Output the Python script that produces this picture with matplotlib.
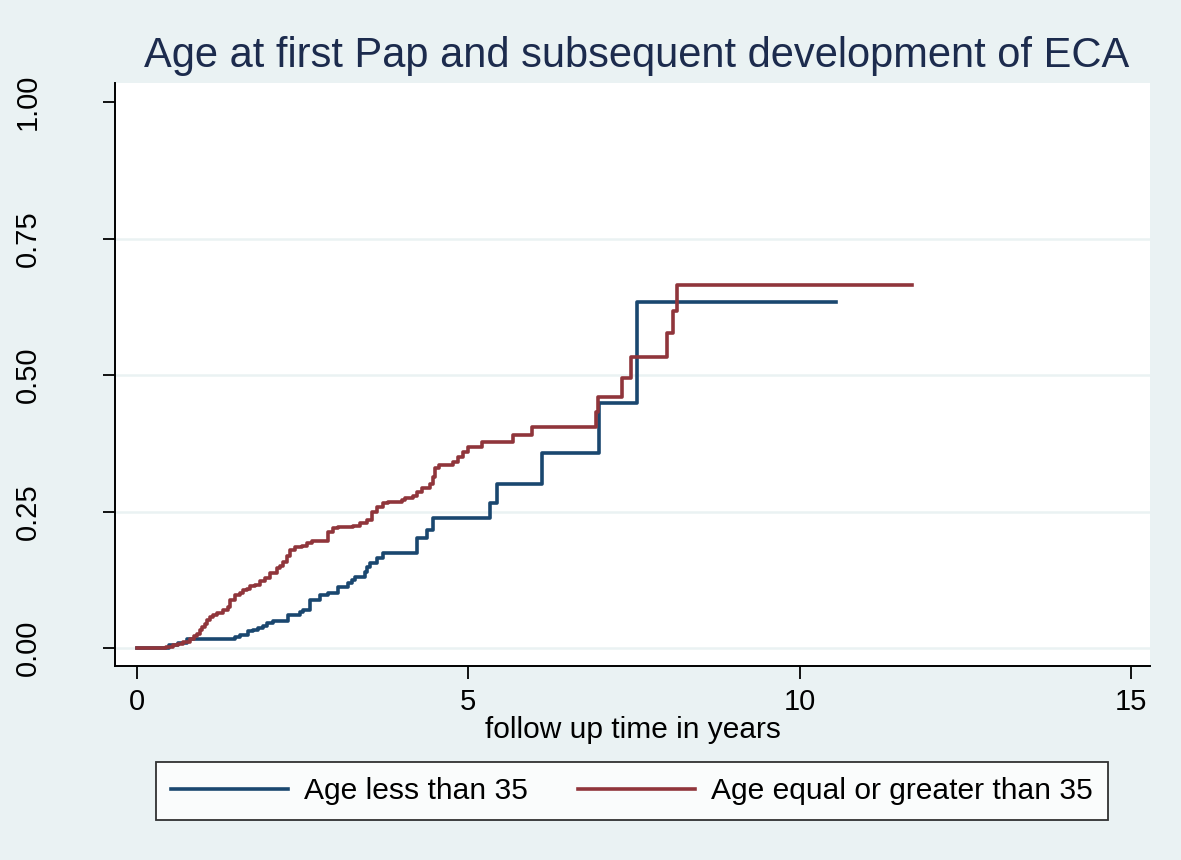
import matplotlib
matplotlib.use("Agg")
import matplotlib.pyplot as plt
import numpy as np

plt.rcParams['font.family'] = ['Liberation Sans', 'DejaVu Sans']

title = "Age at first Pap and subsequent development of ECA"
xlabel = "follow up time in years"
series_names = ["Age less than 35", "Age equal or greater than 35"]
xticks = [0, 5, 10, 15]
yticks = [0.00, 0.25, 0.50, 0.75, 1.00]
ytick_labels = ["0.00", "0.25", "0.50", "0.75", "1.00"]

# Kaplan-Meier failure estimates (time in years, cumulative failure after step)
young_t = [0.0, 0.48, 0.62, 0.75, 1.48, 1.55, 1.67, 1.75, 1.83, 1.90, 1.96, 2.05,
           2.28, 2.46, 2.50, 2.61, 2.76, 2.88, 3.03, 3.18, 3.24, 3.29, 3.44, 3.47,
           3.52, 3.62, 3.71, 4.23, 4.38, 4.47, 5.33, 5.43, 6.11, 6.97, 7.54, 10.55]
young_f = [0.0, 0.005, 0.010, 0.016, 0.020, 0.024, 0.031, 0.033, 0.037, 0.040, 0.046, 0.050,
           0.060, 0.066, 0.070, 0.088, 0.097, 0.101, 0.112, 0.119, 0.125, 0.130, 0.139, 0.148,
           0.156, 0.165, 0.174, 0.201, 0.216, 0.238, 0.265, 0.300, 0.357, 0.449, 0.634, 0.634]

old_t = [0.0, 0.44, 0.54, 0.62, 0.69, 0.80, 0.86, 0.91, 0.95, 0.98, 1.03, 1.06,
         1.10, 1.15, 1.21, 1.30, 1.37, 1.40, 1.48, 1.55, 1.60, 1.66, 1.71, 1.78,
         1.86, 1.93, 2.01, 2.11, 2.16, 2.20, 2.26, 2.31, 2.38, 2.49, 2.57, 2.64,
         2.88, 2.96, 3.03, 3.26, 3.37, 3.47, 3.55, 3.62, 3.71, 3.79, 4.00, 4.04,
         4.16, 4.23, 4.30, 4.42, 4.47, 4.50, 4.55, 4.77, 4.84, 4.92, 4.99, 5.21,
         5.67, 5.96, 6.93, 6.96, 7.32, 7.45, 8.00, 8.09, 8.15, 11.69]
old_f = [0.0, 0.002, 0.005, 0.008, 0.011, 0.016, 0.022, 0.026, 0.033, 0.038, 0.044, 0.051,
         0.057, 0.060, 0.064, 0.070, 0.075, 0.088, 0.097, 0.101, 0.106, 0.108, 0.114, 0.115,
         0.123, 0.128, 0.137, 0.146, 0.150, 0.158, 0.168, 0.179, 0.185, 0.187, 0.192, 0.196,
         0.212, 0.220, 0.222, 0.223, 0.229, 0.234, 0.249, 0.258, 0.266, 0.267, 0.271, 0.275,
         0.278, 0.286, 0.293, 0.300, 0.313, 0.330, 0.335, 0.341, 0.350, 0.359, 0.368, 0.377,
         0.390, 0.405, 0.432, 0.460, 0.495, 0.533, 0.577, 0.617, 0.665, 0.665]

BG = "#EAF2F3"
NAVY = "#1A476F"
MAROON = "#90353B"

W, H = 1181, 860
fig = plt.figure(figsize=(W / 100, H / 100), dpi=100, facecolor=BG)
ax = fig.add_axes([115 / W, 1 - 666 / H, (1150 - 115) / W, (666 - 83) / H])
ax.set_facecolor("white")

for yv in yticks[:-1]:
    ax.axhline(yv, color=BG, lw=1.8, zorder=1)

l1, = ax.step(young_t, young_f, where="post", color=NAVY, lw=2.6, zorder=3)
l2, = ax.step(old_t, old_f, where="post", color=MAROON, lw=2.6, zorder=3)

ax.set_xlim((115 - 137) / 66.27, (1150 - 137) / 66.27)
ax.set_ylim(-18 / 546, 1 + 19 / 546)

ax.set_xticks(xticks)
ax.set_xticklabels([str(v) for v in xticks])
ax.set_yticks(yticks)
ax.set_yticklabels(ytick_labels, rotation=90, va="center")

for s in ["top", "right"]:
    ax.spines[s].set_visible(False)
for s in ["left", "bottom"]:
    ax.spines[s].set_linewidth(1.4)
    ax.spines[s].set_color("black")

ax.tick_params(axis="both", direction="out", length=9, width=1.3, labelsize=21, colors="black")
ax.tick_params(axis="x", pad=7)
ax.tick_params(axis="y", pad=44)

ax.set_xlabel(xlabel, fontsize=21.5, labelpad=0)

fig.text(637 / W, 1 - 56 / H, title, ha="center", va="center", fontsize=30, color="#1C2B4D")

leg = fig.legend([l1, l2], series_names, loc="center", ncol=2,
                 bbox_to_anchor=(632 / W, 1 - 791 / H), fontsize=21.6,
                 frameon=True, fancybox=False, edgecolor="black", facecolor="white",
                 handlelength=3.9, columnspacing=1.65, handletextpad=0.55,
                 borderpad=0.5, borderaxespad=0)
leg.get_frame().set_linewidth(1.3)

fig.savefig("out.png", dpi=100, facecolor=BG)
